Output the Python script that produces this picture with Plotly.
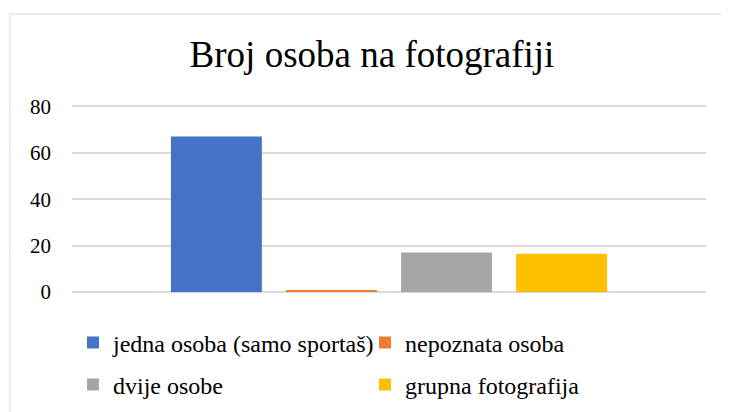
import plotly.graph_objects as go

# data
category = [""]
series_names = ["jedna osoba (samo sportaš)", "nepoznata osoba", "dvije osobe", "grupna fotografija"]
series_values = [67, 0.5, 17, 16.5]
series_colors = ["#4472C4", "#ED7D31", "#A5A5A5", "#FFC000"]
legend_ids = ["legend", "legend", "legend2", "legend2"]
y_ticks = [0, 20, 40, 60, 80]
y_max = 81

serif = "Liberation Serif, Times New Roman, serif"

fig = go.Figure()
for name, val, col, lg in zip(series_names, series_values, series_colors, legend_ids):
    fig.add_trace(go.Bar(x=category, y=[val], name=name, marker_color=col,
                         marker_line_width=0, legend=lg))

# the page puts the figure 8px in from the corner, so target pixels are shifted back
OFF = 8
W, H = 729, 412
x_left, x_right = 72 - OFF, 706 - OFF
y_zero, y_80 = 292 - OFF, 106 - OFF
unit = (y_zero - y_80) / 80
y_top = y_zero - unit * y_max
L, R = x_left, W - x_right
B = H - y_zero
T = round(y_top)
pw, ph = W - L - R, H - T - B

def px_x(x):
    return (x - OFF - L) / pw

def px_y(y):
    return (H - B - (y - OFF)) / ph

legend_common = dict(orientation="h", xanchor="left", yanchor="middle",
                     font=dict(family=serif, size=24, color="#000000"),
                     itemwidth=30, entrywidth=247, entrywidthmode="pixels",
                     bgcolor="rgba(0,0,0,0)", traceorder="normal")

fig.update_layout(
    width=W, height=H,
    margin=dict(l=L, r=R, t=T, b=B, autoexpand=False),
    paper_bgcolor="white", plot_bgcolor="white",
    title=dict(text="Broj osoba na fotografiji", x=(372 - OFF) / W, xanchor="center",
               y=1 - (54 - OFF) / H, yanchor="middle",
               font=dict(family=serif, size=37, color="#000000")),
    barmode="group", bargap=0.274, bargroupgap=0.21,
    legend=dict(x=px_x(73), y=px_y(343), **legend_common),
    legend2=dict(x=px_x(73), y=px_y(385), **legend_common),
    showlegend=True,
    shapes=[dict(type="rect", xref="paper", yref="paper",
                 x0=px_x(10), x1=px_x(745), y0=px_y(430), y1=px_y(14),
                 line=dict(color="#D9D9D9", width=1), layer="below")],
)
fig.update_xaxes(showticklabels=False, showline=False, showgrid=False, zeroline=False)
fig.update_yaxes(range=[0, y_max], tickvals=y_ticks, showgrid=True, gridcolor="#D9D9D9",
                 gridwidth=1.5, zeroline=True, zerolinecolor="#D9D9D9", zerolinewidth=1.5,
                 showline=False, ticks="", ticklabelstandoff=20,
                 tickfont=dict(family=serif, size=21, color="#000000"))

fig.write_html("out.html")
